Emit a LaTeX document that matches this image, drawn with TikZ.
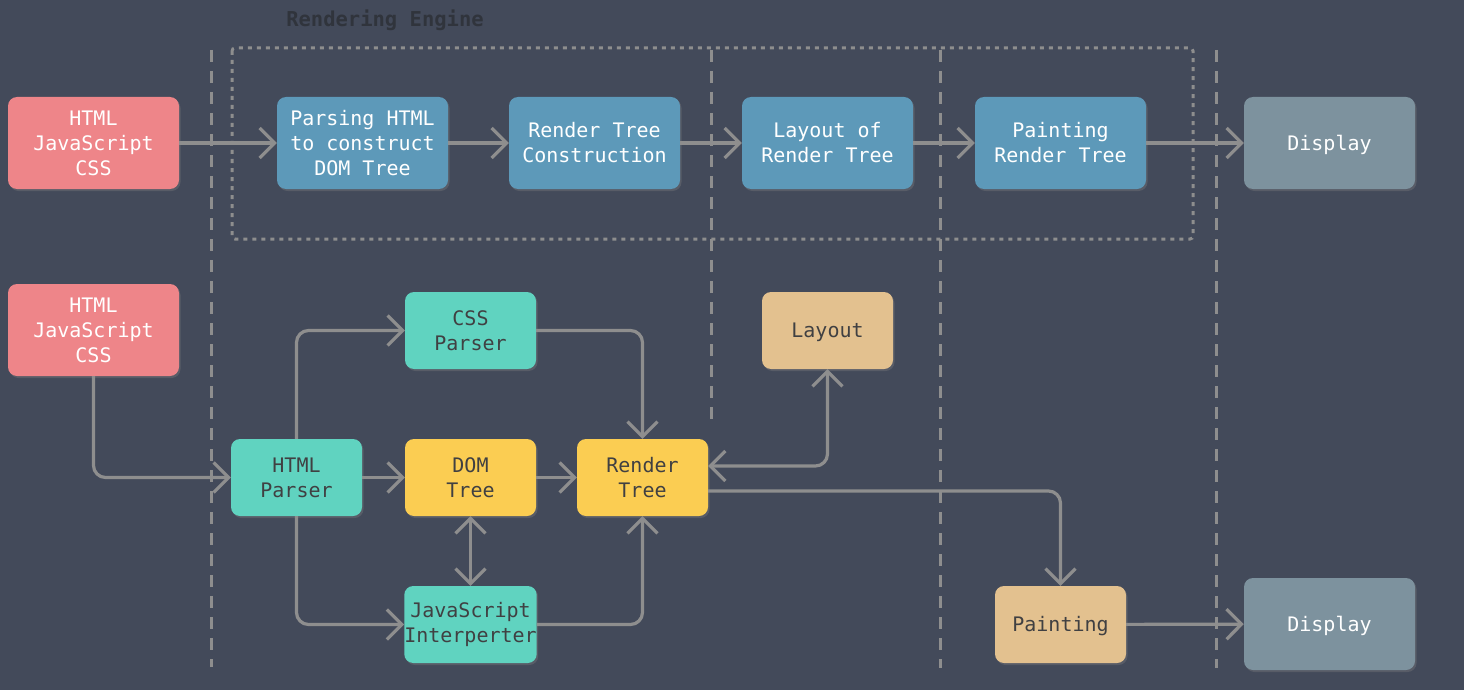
\documentclass[tikz,border=0pt]{standalone}
\usepackage{fontspec}
\setmonofont{DejaVu Sans Mono}
\usetikzlibrary{arrows.meta,shadows}
\definecolor{bg}{RGB}{67,74,90}
\definecolor{redc}{RGB}{238,133,137}
\definecolor{bluec}{RGB}{93,153,185}
\definecolor{dispc}{RGB}{125,146,158}
\definecolor{tealc}{RGB}{96,211,192}
\definecolor{yelc}{RGB}{251,205,82}
\definecolor{tanc}{RGB}{227,193,143}
\definecolor{darktxt}{RGB}{64,64,66}
\definecolor{linec}{RGB}{142,142,142}
\definecolor{titlec}{RGB}{48,52,60}
\newcommand{\oneln}[1]{\raisebox{-7pt}[0pt][0pt]{#1}}
\tikzset{
  box/.style={rounded corners=9pt, inner sep=0pt, align=center,
    font=\ttfamily\fontsize{20}{25}\selectfont,
    drop shadow={shadow xshift=1.5pt, shadow yshift=-2pt, opacity=0.35}},
  bigbox/.style={box, minimum width=171pt, minimum height=92pt},
  smallbox/.style={box, minimum width=131pt, minimum height=77pt},
  redbox/.style={bigbox, fill=redc, text=white},
  bluebox/.style={bigbox, fill=bluec, text=white},
  dispbox/.style={bigbox, fill=dispc, text=white},
  tealbox/.style={smallbox, fill=tealc, text=darktxt},
  yelbox/.style={smallbox, fill=yelc, text=darktxt},
  tanbox/.style={smallbox, fill=tanc, text=darktxt},
  conn/.style={draw=linec, line width=3.2pt, rounded corners=12pt,
    -{Straight Barb[length=15pt,width=30pt,line width=3.2pt]}},
  bconn/.style={conn, {Straight Barb[length=15pt,width=30pt,line width=3.2pt]}-{Straight Barb[length=15pt,width=30pt,line width=3.2pt]}},
  vdash/.style={draw=linec, line width=3pt, dash pattern=on 12pt off 9pt},
}
\begin{document}
\begin{tikzpicture}[x=1pt,y=-1pt]
\fill[bg] (0,0) rectangle (1464,690);
\useasboundingbox (0,0) rectangle (1464,690);

% separators
\draw[vdash] (211,50) -- (211,667);
\draw[vdash] (711,50) -- (711,425);
\draw[vdash] (940,50) -- (940,668);
\draw[vdash] (1216,50) -- (1216,668);
\draw[draw=linec, line width=3pt, dash pattern=on 4pt off 5pt, rounded corners=3pt] (232,48) rectangle (1193,239);
\node[font=\ttfamily\bfseries\fontsize{20.5}{24}\selectfont, text=titlec] (title) at (385,20) {Rendering Engine};

% top row
\node[redbox] (in1) at (93.5,143) {HTML\\JavaScript\\CSS};
\node[bluebox] (parse) at (362.5,143) {Parsing HTML\\to construct\\DOM Tree};
\node[bluebox] (rtc) at (594.5,143) {Render Tree\\Construction};
\node[bluebox] (lrt) at (827.5,143) {Layout of\\Render Tree};
\node[bluebox] (prt) at (1060.5,143) {Painting\\Render Tree};
\node[dispbox] (disp1) at (1329.5,143) {\oneln{Display}};

\draw[conn] (in1) -- (parse);
\draw[conn] (parse) -- (rtc);
\draw[conn] (rtc) -- (lrt);
\draw[conn] (lrt) -- (prt);
\draw[conn] (prt) -- (disp1);

% bottom
\node[redbox] (in2) at (93.5,330) {HTML\\JavaScript\\CSS};
\node[tealbox] (css) at (470.5,330.5) {CSS\\Parser};
\node[tealbox] (hp) at (296.5,477.5) {HTML\\Parser};
\node[yelbox] (dom) at (470.5,477.5) {DOM\\Tree};
\node[yelbox] (rt) at (642.5,477.5) {Render\\Tree};
\node[tealbox] (js) at (470.5,624.5) {JavaScript\\Interperter};
\node[tanbox] (lay) at (827.5,330.5) {\oneln{Layout}};
\node[tanbox] (paint) at (1060.5,624.5) {\oneln{Painting}};
\node[dispbox] (disp2) at (1329.5,624) {\oneln{Display}};

\coordinate (c1) at (827,466);
\coordinate (c2) at (1060,491);

\draw[conn] (in2.south) |- (hp.west);
\draw[conn] (hp.north) |- (css.west);
\draw[conn] (hp.south) |- (js.west);
\draw[conn] (hp) -- (dom);
\draw[conn] (css.east) -| (rt.north);
\draw[conn] (dom) -- (rt);
\draw[bconn] (dom.south) -- (js.north);
\draw[conn] (js.east) -| (rt.south);
\draw[bconn] (rt.east |- c1) -| (lay.south);
\draw[conn] (rt.east |- c2) -| (paint.north);
\draw[conn] (paint) -- (disp2);
\end{tikzpicture}
\end{document}
